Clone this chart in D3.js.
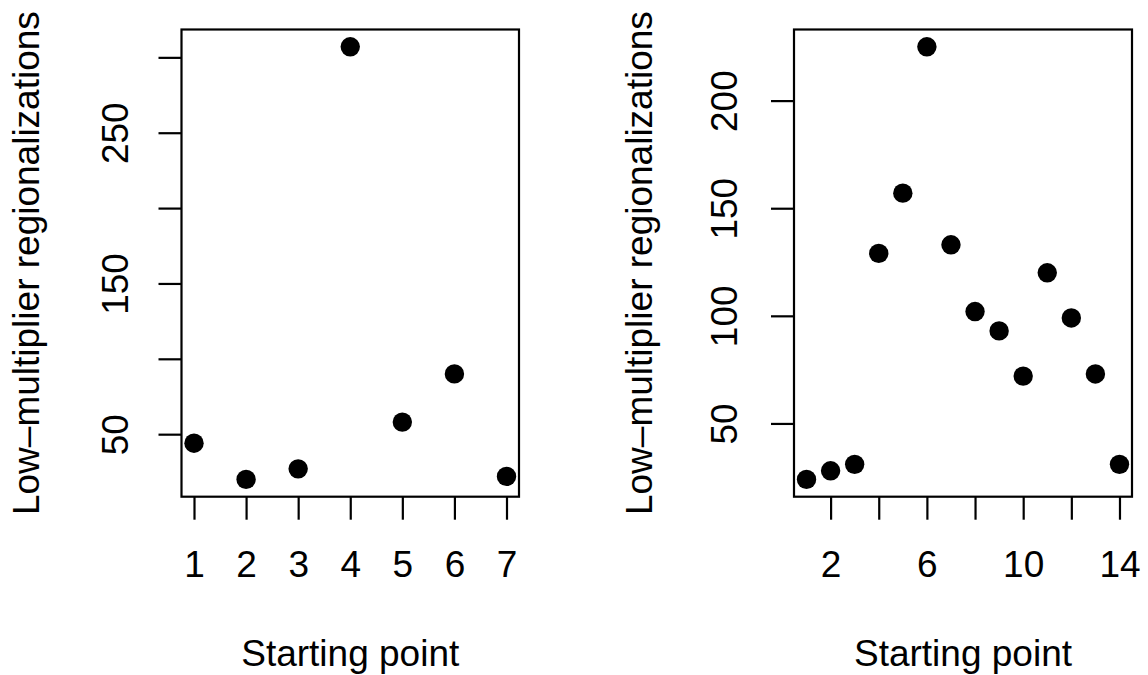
<!DOCTYPE html>
<html>
  <head>
    <title>Starting point vs low-multiplier regionalizations</title>
    <script src="https://d3js.org/d3.v7.min.js"></script>
    <style>
      body { margin: 0; background: #ffffff; }
      text { font-family: "Liberation Sans", Arial, Helvetica, sans-serif; fill: #000; }
    </style>
  </head>
  <body>
    <svg width="1148" height="675" id="mainsvg"></svg>
    <script>
        // data
        const leftStart = [1, 2, 3, 4, 5, 6, 7];
        const leftCount = [44, 20, 27, 307, 58, 90, 22];
        const rightStart = [1, 2, 3, 4, 5, 6, 7, 8, 9, 10, 11, 12, 13, 14];
        const rightCount = [24, 28, 31, 129, 157, 225, 133, 102, 93, 72, 120, 99, 73, 31];

        const leftXTicks = [1, 2, 3, 4, 5, 6, 7];
        const leftXLabels = [1, 2, 3, 4, 5, 6, 7];
        const leftYTicks = [50, 100, 150, 200, 250, 300];
        const leftYLabels = [50, 150, 250];
        const rightXTicks = [2, 4, 6, 8, 10, 12, 14];
        const rightXLabels = [2, 6, 10, 14];
        const rightYTicks = [50, 100, 150, 200];
        const rightYLabels = [50, 100, 150, 200];

        const xAxisLabel = 'Starting point';
        const yAxisLabel = 'Low\u2013multiplier regionalizations';

        const svg = d3.select('#mainsvg');
        const fontSize = 37;
        const tickLen = 23;
        const lw = 2.2;

        // R style range: data extent stretched by 4% on each side
        const rExtent = function(vals){
            const [a, b] = d3.extent(vals);
            const pad = (b - a) * 0.04;
            return [a - pad, b + pad];
        };

        const renderPanel = function(p){
            const xScale = d3.scaleLinear().domain(rExtent(p.xs)).range([p.left, p.right]);
            const yScale = d3.scaleLinear().domain(rExtent(p.ys)).range([p.bottom, p.top]);
            const g = svg.append('g');

            // bottom axis
            const xAxis = d3.axisBottom(xScale)
                .tickValues(p.xTicks)
                .tickSize(tickLen)
                .tickFormat(d => p.xLabels.includes(d) ? d : '');
            const xg = g.append('g')
                .attr('transform', `translate(0, ${p.bottom})`)
                .call(xAxis);
            xg.select('.domain').remove();
            xg.selectAll('line').attr('stroke', '#000').attr('stroke-width', lw);
            xg.selectAll('text')
                .attr('y', 577 - p.bottom)
                .attr('dy', 0)
                .attr('font-size', fontSize);

            // left axis, labels turned like R's las=0
            const yAxis = d3.axisLeft(yScale)
                .tickValues(p.yTicks)
                .tickSize(tickLen)
                .tickFormat(d => p.yLabels.includes(d) ? d : '');
            const yg = g.append('g')
                .attr('transform', `translate(${p.left}, 0)`)
                .call(yAxis);
            yg.select('.domain').remove();
            yg.selectAll('line').attr('stroke', '#000').attr('stroke-width', lw);
            yg.selectAll('text')
                .attr('x', 0)
                .attr('dy', 0)
                .attr('text-anchor', 'middle')
                .attr('transform', `translate(${p.yLabelX - p.left}, 0) rotate(-90)`)
                .attr('font-size', fontSize);
            yg.attr('font-family', null).attr('font-size', null);
            xg.attr('font-family', null).attr('font-size', null);

            // frame
            g.append('rect')
                .attr('x', p.left)
                .attr('y', p.top)
                .attr('width', p.right - p.left)
                .attr('height', p.bottom - p.top)
                .attr('fill', 'none')
                .attr('stroke', '#000')
                .attr('stroke-width', lw);

            // points
            g.selectAll('circle').data(p.xs.map((x, i) => ({x: x, y: p.ys[i]})))
                .enter().append('circle')
                .attr('cx', d => xScale(d.x))
                .attr('cy', d => yScale(d.y))
                .attr('r', 9.7)
                .attr('fill', '#000');

            // axis titles
            g.append('text')
                .attr('x', (p.left + p.right) / 2)
                .attr('y', 665.5)
                .attr('text-anchor', 'middle')
                .attr('font-size', fontSize)
                .text(xAxisLabel);
            g.append('text')
                .attr('transform', `translate(${p.titleX}, ${(p.top + p.bottom) / 2}) rotate(-90)`)
                .attr('text-anchor', 'middle')
                .attr('font-size', fontSize)
                .text(yAxisLabel);
        };

        renderPanel({
            xs: leftStart, ys: leftCount,
            xTicks: leftXTicks, xLabels: leftXLabels,
            yTicks: leftYTicks, yLabels: leftYLabels,
            left: 181.5, right: 519, top: 29.5, bottom: 496.7,
            yLabelX: 128, titleX: 39.3
        });
        renderPanel({
            xs: rightStart, ys: rightCount,
            xTicks: rightXTicks, xLabels: rightXLabels,
            yTicks: rightYTicks, yLabels: rightYLabels,
            left: 794, right: 1132, top: 29.5, bottom: 496.7,
            yLabelX: 737, titleX: 651.6
        });
    </script>
  </body>
</html>
